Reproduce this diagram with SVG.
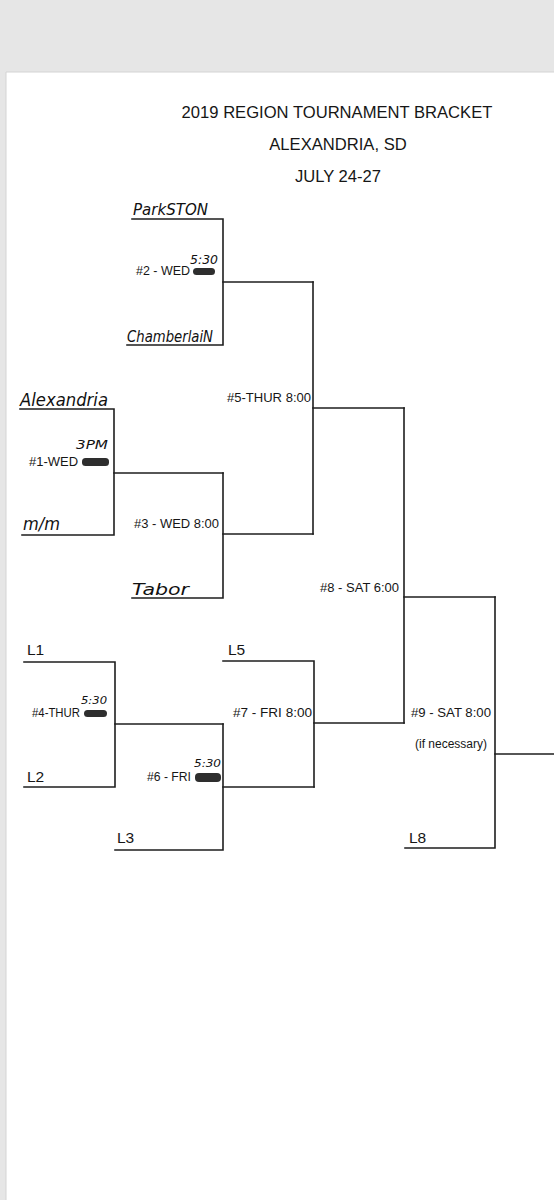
<svg xmlns="http://www.w3.org/2000/svg" width="554" height="1200" viewBox="0 0 554 1200">
<style>
.ln{stroke:#1e1e1e;stroke-width:1.6;fill:none;stroke-linecap:square}
.t{font-family:"Liberation Sans",Arial,sans-serif;fill:#161616}
.title{font-size:16.6px}
.m{font-size:13.5px}
.lab{font-size:15.5px}
.hw{font-family:"DejaVu Sans","Liberation Sans",sans-serif;font-style:italic;fill:#111}
.blot{fill:#2e2e2e}
</style>
<rect x="0" y="0" width="554" height="1200" fill="#e6e6e6"/>
<rect x="6" y="72" width="548" height="1128" fill="#ffffff"/>
<line x1="6" y1="72" x2="554" y2="72" stroke="#d4d4d4" stroke-width="1"/>
<line x1="6" y1="72" x2="6" y2="1200" stroke="#d4d4d4" stroke-width="1"/>

<g id="title">
<text class="t title" x="337" y="118" text-anchor="middle">2019 REGION TOURNAMENT BRACKET</text>
<text class="t title" x="338" y="150" text-anchor="middle">ALEXANDRIA, SD</text>
<text class="t title" x="338" y="182" text-anchor="middle">JULY 24-27</text>
</g>

<g id="connectors">
<path class="ln" d="M132 219H223V345H127"/>
<path class="ln" d="M223 282H313"/>
<path class="ln" d="M20 409H114V535H22"/>
<path class="ln" d="M114 473H223"/>
<path class="ln" d="M223 473V598H132"/>
<path class="ln" d="M223 534H313"/>
<path class="ln" d="M313 282V534"/>
<path class="ln" d="M313 408H404"/>
<path class="ln" d="M404 408V723"/>
<path class="ln" d="M404 597H495"/>
<path class="ln" d="M24 662H115V787H24"/>
<path class="ln" d="M115 724H223"/>
<path class="ln" d="M223 724V850H115"/>
<path class="ln" d="M223 787H314"/>
<path class="ln" d="M223 661H314V787"/>
<path class="ln" d="M314 723H404"/>
<path class="ln" d="M495 597V848H405"/>
<path class="ln" d="M495 754H554"/>
</g>

<g id="team-parkston"><text class="hw" x="133" y="215" font-size="16" textLength="75" lengthAdjust="spacingAndGlyphs">ParkSTON</text></g>
<g id="team-chamberlain"><text class="hw" x="127" y="342" font-size="16" textLength="86" lengthAdjust="spacingAndGlyphs">ChamberlaiN</text></g>
<g id="team-alexandria"><text class="hw" x="20" y="406" font-size="17" textLength="88" lengthAdjust="spacingAndGlyphs">Alexandria</text></g>
<g id="team-mm"><text class="hw" x="23" y="530" font-size="18" textLength="37" lengthAdjust="spacingAndGlyphs">m/m</text></g>
<g id="team-tabor"><text class="hw" x="132" y="595" font-size="16" textLength="57" lengthAdjust="spacingAndGlyphs">Tabor</text></g>

<g id="L1"><text class="t lab" x="27" y="655">L1</text></g>
<g id="L2"><text class="t lab" x="27" y="782">L2</text></g>
<g id="L3"><text class="t lab" x="117" y="843">L3</text></g>
<g id="L5"><text class="t lab" x="228" y="655">L5</text></g>
<g id="L8"><text class="t lab" x="409" y="843">L8</text></g>

<g id="match-2">
<text class="t m" x="136" y="275" textLength="54" lengthAdjust="spacingAndGlyphs">#2 - WED</text>
<rect class="blot" x="193" y="268" width="22" height="7" rx="3.5"/>
<text class="hw" x="190" y="264" font-size="12" textLength="28" lengthAdjust="spacingAndGlyphs">5:30</text>
</g>
<g id="match-1">
<text class="t m" x="29" y="466" textLength="49" lengthAdjust="spacingAndGlyphs">#1-WED</text>
<rect class="blot" x="82" y="458" width="27" height="8" rx="3.5"/>
<text class="hw" x="76" y="449" font-size="12" textLength="32" lengthAdjust="spacingAndGlyphs">3PM</text>
</g>
<g id="match-3">
<text class="t m" x="134" y="528" textLength="85" lengthAdjust="spacingAndGlyphs">#3 - WED 8:00</text>
</g>
<g id="match-5">
<text class="t m" x="227" y="402" textLength="84" lengthAdjust="spacingAndGlyphs">#5-THUR 8:00</text>
</g>
<g id="match-8">
<text class="t m" x="320" y="592" textLength="79" lengthAdjust="spacingAndGlyphs">#8 - SAT 6:00</text>
</g>
<g id="match-4">
<text class="t m" x="32" y="717" textLength="48" lengthAdjust="spacingAndGlyphs">#4-THUR</text>
<rect class="blot" x="84" y="710" width="23" height="7" rx="3.5"/>
<text class="hw" x="81" y="704" font-size="11" textLength="26" lengthAdjust="spacingAndGlyphs">5:30</text>
</g>
<g id="match-7">
<text class="t m" x="233" y="717" textLength="79" lengthAdjust="spacingAndGlyphs">#7 - FRI  8:00</text>
</g>
<g id="match-6">
<text class="t m" x="147" y="781" textLength="44" lengthAdjust="spacingAndGlyphs">#6 - FRI</text>
<rect class="blot" x="195" y="773" width="26" height="9" rx="4"/>
<text class="hw" x="194" y="767" font-size="11" textLength="27" lengthAdjust="spacingAndGlyphs">5:30</text>
</g>
<g id="match-9">
<text class="t m" x="411" y="717" textLength="80" lengthAdjust="spacingAndGlyphs">#9 - SAT 8:00</text>
<text class="t" x="415" y="748" font-size="12" textLength="72" lengthAdjust="spacingAndGlyphs">(if necessary)</text>
</g>
</svg>
